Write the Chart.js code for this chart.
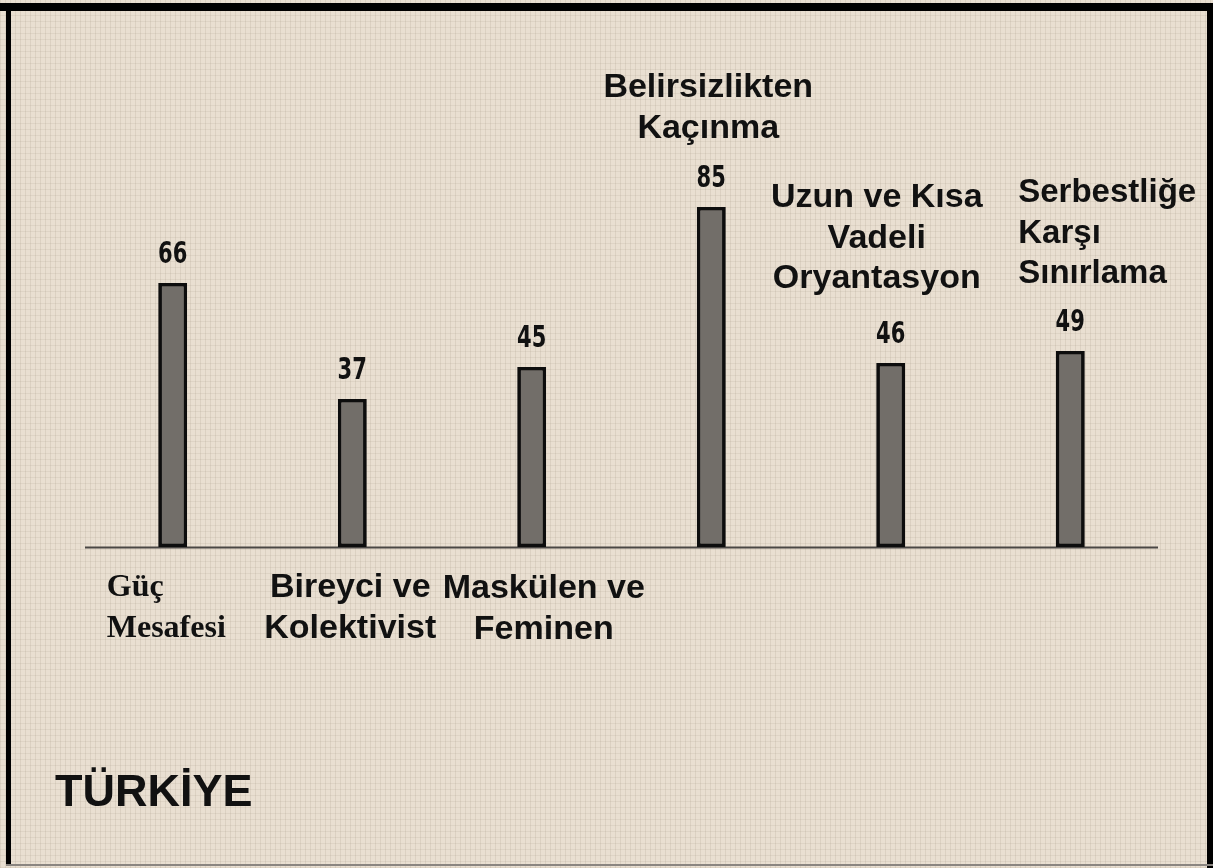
<!DOCTYPE html>
<html>
<head>
<meta charset="utf-8">
<script src="https://cdn.jsdelivr.net/npm/chart.js@4/dist/chart.umd.min.js"></script>
<style>
  html, body { margin: 0; padding: 0; background: #efe6d9; }
  #wrap {
    position: relative; width: 1213px; height: 868px;
    background-color: #e9dfd1;
    background-image:
      repeating-linear-gradient(90deg, rgba(150,135,115,0.16) 0 1px, transparent 1px 5px),
      repeating-linear-gradient(0deg, rgba(150,135,115,0.13) 0 1px, transparent 1px 6px);
  }
  canvas { position: absolute; left: 0; top: 0; }
</style>
</head>
<body>
<div id="wrap"><canvas id="hofstede" width="1213" height="868"></canvas></div>
<script>
const categories = [
  ['Güç', 'Mesafesi'],
  ['Bireyci ve', 'Kolektivist'],
  ['Maskülen ve', 'Feminen'],
  ['Belirsizlikten', 'Kaçınma'],
  ['Uzun ve Kısa', 'Vadeli', 'Oryantasyon'],
  ['Serbestliğe', 'Karşı', 'Sınırlama']
];
const scores = [66, 37, 45, 85, 46, 49];
const countryName = 'TÜRKİYE';

// where each category text sits: dx from bar centre, y of first line, alignment, font
const labelPlacement = [
  { dx: -66, y: 588, align: 'left',   font: 'bold 32px "Liberation Serif"' },
  { dx: -2,  y: 588, align: 'center', font: 'bold 34px "Liberation Sans"' },
  { dx: 12,  y: 589, align: 'center', font: 'bold 34px "Liberation Sans"' },
  { dx: -3,  y: 88,  align: 'center', font: 'bold 34px "Liberation Sans"' },
  { dx: -14, y: 198, align: 'center', font: 'bold 34px "Liberation Sans"' },
  { dx: -52, y: 193, align: 'left',   font: 'bold 33px "Liberation Sans"' }
];

const decor = {
  id: 'decor',
  afterDatasetsDraw(chart) {
    const { ctx, chartArea, scales: { x, y } } = chart;
    ctx.save();
    // baseline
    ctx.strokeStyle = '#4a4744';
    ctx.lineWidth = 2;
    ctx.beginPath();
    ctx.moveTo(chartArea.left + 2, y.getPixelForValue(0) + 0.5);
    ctx.lineTo(chartArea.right - 2, y.getPixelForValue(0) + 0.5);
    ctx.stroke();
    // redraw bars over the baseline
    chart.getDatasetMeta(0).data.forEach(b => b.draw(ctx));

    ctx.fillStyle = '#111';
    ctx.textBaseline = 'middle';
    // values, squeezed sideways like the stencil digits of the original
    ctx.font = 'bold 30px "DejaVu Sans Condensed"';
    ctx.textAlign = 'center';
    scores.forEach((v, i) => {
      ctx.save();
      ctx.translate(x.getPixelForValue(i), y.getPixelForValue(v) - 28);
      ctx.scale(0.78, 1);
      ctx.fillText(String(v), 0, 0);
      ctx.restore();
    });
    // category texts
    categories.forEach((lines, i) => {
      const p = labelPlacement[i];
      ctx.font = p.font;
      ctx.textAlign = p.align;
      lines.forEach((t, k) => {
        ctx.fillText(t, x.getPixelForValue(i) + p.dx, p.y + k * 40.5);
      });
    });
    // country
    ctx.font = 'bold 45px "Liberation Sans"';
    ctx.textAlign = 'left';
    ctx.fillText(countryName, 55, 794);
    // frame
    ctx.fillStyle = '#000';
    ctx.fillRect(0, 3, 1213, 8);
    ctx.fillRect(6, 3, 5, 862);
    ctx.fillRect(1207, 3, 6, 865);
    ctx.fillStyle = '#8a8580';
    ctx.fillRect(6, 864, 1207, 2);
    ctx.restore();
  }
};

new Chart(document.getElementById('hofstede'), {
  type: 'bar',
  data: {
    labels: categories,
    datasets: [{
      data: scores,
      backgroundColor: '#726e69',
      borderColor: '#0d0d0d',
      borderWidth: 3.5,
      borderSkipped: false,
      barPercentage: 0.16,
      categoryPercentage: 1
    }]
  },
  options: {
    responsive: false,
    animation: false,
    layout: { padding: { left: 83, right: 53, top: 67, bottom: 321 } },
    plugins: { legend: { display: false }, tooltip: { enabled: false } },
    scales: {
      x: { display: false },
      y: { display: false, min: 0, max: 120 }
    }
  },
  plugins: [decor]
});
</script>
</body>
</html>
